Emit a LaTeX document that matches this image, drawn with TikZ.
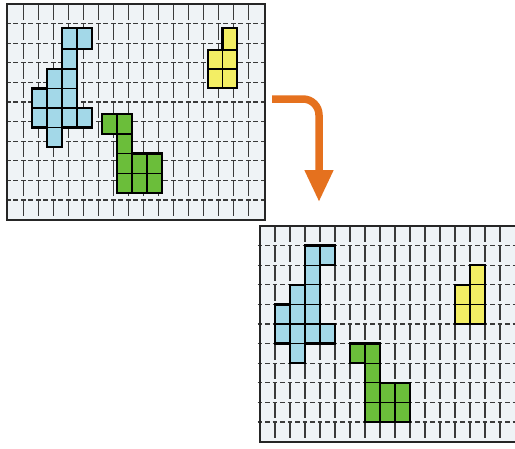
\documentclass[tikz,border=0pt]{standalone}
\usetikzlibrary{arrows.meta}
\definecolor{cblue}{HTML}{A3D8E8}
\definecolor{cyel}{HTML}{F3EE64}
\definecolor{cgreen}{HTML}{6BBE3A}
\definecolor{bgc}{HTML}{EFF3F6}
\definecolor{gridc}{HTML}{3A3A3A}
\definecolor{arrowc}{HTML}{E5711E}
\begin{document}
\begin{tikzpicture}[x=1pt,y=-1pt,
  panelfill/.style={fill=bgc},
  panelframe/.style={draw=black!85, line width=1.8pt},
  hgrid/.style={draw=gridc, line width=1.2pt, dash pattern=on 4.8pt off 2.7pt},
  vgrid/.style={draw=gridc, line width=1.2pt, dash pattern=on 16pt off 3.6pt},
  bcell/.style={fill=cblue, draw=black, line width=1.3pt},
  ycell/.style={fill=cyel, draw=black, line width=1.3pt},
  gcell/.style={fill=cgreen, draw=black, line width=1.3pt},
  outline/.style={draw=black, line width=2.4pt, line join=miter},
  bigarrow/.style={draw=arrowc, line width=7.5pt, rounded corners=16pt,
    -{Triangle[length=32pt,width=27pt]}}
]
\useasboundingbox (0,0) rectangle (515,448);
\fill[white] (0,0) rectangle (515,448);

% ---------- panel 1 ----------
\fill[panelfill] (7,4) rectangle (265,220);
\foreach \k in {1,...,16} \draw[vgrid] ({8.3+15*\k},4) -- ({8.3+15*\k},220);
\foreach \k in {1,...,10} \draw[hgrid] (5.9,{4+19.6*\k}) -- (265,{4+19.6*\k});

% blue shape (panel 1)
\foreach \xa/\ya/\xb/\yb in {62/28/77/49, 77/28/92/49, 62/49/77/69,
  47/69/62/88.5, 62/69/77/88.5,
  32/88.5/47/108, 47/88.5/62/108, 62/88.5/77/108,
  32/108/47/127.5, 47/108/62/127.5, 62/108/77/127.5, 77/108/92/127.5,
  47/127.5/62/147}
  \path[bcell] (\xa,\ya) rectangle (\xb,\yb);
\draw[outline] (62,28) -- (92,28) -- (92,49) -- (77,49) -- (77,108) -- (92,108)
  -- (92,127.5) -- (62,127.5) -- (62,147) -- (47,147) -- (47,127.5) -- (32,127.5)
  -- (32,88.5) -- (47,88.5) -- (47,69) -- (62,69) -- cycle;

% yellow shape (panel 1)
\foreach \xa/\ya/\xb/\yb in {222.5/28/237/50, 208/50/222.5/69, 222.5/50/237/69,
  208/69/222.5/88, 222.5/69/237/88}
  \path[ycell] (\xa,\ya) rectangle (\xb,\yb);
\draw[outline] (222.5,28) -- (237,28) -- (237,88) -- (208,88) -- (208,50) -- (222.5,50) -- cycle;

% green shape (panel 1)
\foreach \xa/\ya/\xb/\yb in {102/114/117/134, 117/114/132/134, 117/134/132/153.5,
  117/153.5/132/173.5, 132/153.5/147/173.5, 147/153.5/162/173.5,
  117/173.5/132/193, 132/173.5/147/193, 147/173.5/162/193}
  \path[gcell] (\xa,\ya) rectangle (\xb,\yb);
\draw[outline] (102,114) -- (132,114) -- (132,153.5) -- (162,153.5) -- (162,193)
  -- (117,193) -- (117,134) -- (102,134) -- cycle;

\draw[panelframe] (7,4) rectangle (265,220);

% ---------- panel 2 ----------
\begin{scope}
\clip (0,0) rectangle (515,448);
\fill[panelfill] (260,226) rectangle (518,442);
\foreach \k in {1,...,16} \draw[vgrid] ({260+15*\k},226) -- ({260+15*\k},442);
\foreach \k in {1,...,10} \draw[hgrid] (257.6,{226+19.6*\k}) -- (518,{226+19.6*\k});

% blue shape (panel 2)
\foreach \xa/\ya/\xb/\yb in {305/245.6/320/265.2, 320/245.6/335/265.2, 305/265.2/320/284.8,
  290/284.8/305/304.4, 305/284.8/320/304.4,
  275/304.4/290/324, 290/304.4/305/324, 305/304.4/320/324,
  275/324/290/343.6, 290/324/305/343.6, 305/324/320/343.6, 320/324/335/343.6,
  290/343.6/305/363.2}
  \path[bcell] (\xa,\ya) rectangle (\xb,\yb);
\draw[outline] (305,245.6) -- (335,245.6) -- (335,265.2) -- (320,265.2) -- (320,324) -- (335,324)
  -- (335,343.6) -- (305,343.6) -- (305,363.2) -- (290,363.2) -- (290,343.6) -- (275,343.6)
  -- (275,304.4) -- (290,304.4) -- (290,284.8) -- (305,284.8) -- cycle;

% yellow shape (panel 2)
\foreach \xa/\ya/\xb/\yb in {470/265.2/485/284.8, 455/284.8/470/304.4, 470/284.8/485/304.4,
  455/304.4/470/324, 470/304.4/485/324}
  \path[ycell] (\xa,\ya) rectangle (\xb,\yb);
\draw[outline] (470,265.2) -- (485,265.2) -- (485,324) -- (455,324) -- (455,284.8) -- (470,284.8) -- cycle;

% green shape (panel 2)
\foreach \xa/\ya/\xb/\yb in {350/343.6/365/363.2, 365/343.6/380/363.2, 365/363.2/380/382.8,
  365/382.8/380/402.4, 380/382.8/395/402.4, 395/382.8/410/402.4,
  365/402.4/380/422, 380/402.4/395/422, 395/402.4/410/422}
  \path[gcell] (\xa,\ya) rectangle (\xb,\yb);
\draw[outline] (350,343.6) -- (380,343.6) -- (380,382.8) -- (410,382.8) -- (410,422)
  -- (365,422) -- (365,363.2) -- (350,363.2) -- cycle;

\draw[panelframe] (260,226) rectangle (518,442);
\end{scope}

% ---------- arrow ----------
\coordinate (astart) at (272,99);
\coordinate (aend) at (319,202);
\draw[bigarrow] (astart) -| (aend);
\end{tikzpicture}
\end{document}
